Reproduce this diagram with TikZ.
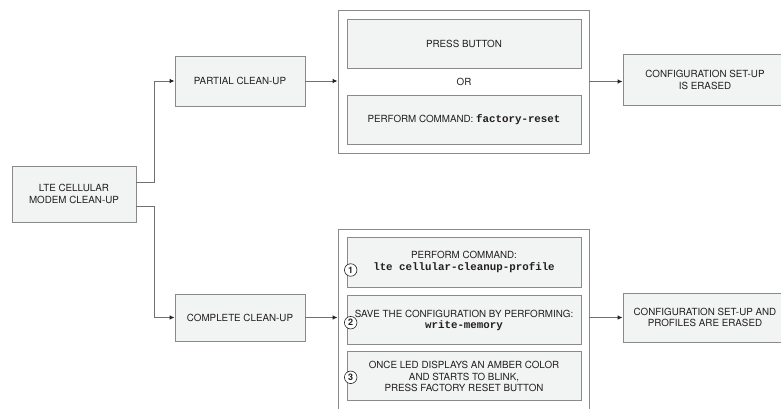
\documentclass[tikz,border=0pt]{standalone}
\usepackage{fontspec}
\setmainfont{TeX Gyre Heros}
\setmonofont{Liberation Mono}
\usetikzlibrary{arrows.meta,calc}
\definecolor{boxfill}{HTML}{F2F3F3}
\definecolor{boxline}{HTML}{8A8A8A}
\definecolor{wire}{HTML}{707070}
\definecolor{ink}{HTML}{231F20}
\newcommand\cmdtxt[1]{{\fontsize{10.8}{11.2}\selectfont\ttfamily\bfseries #1}}
\begin{document}
\begin{tikzpicture}[x=1pt,y=-1pt,
  box/.style={draw=boxline,fill=boxfill,line width=0.9pt,inner sep=0pt,align=center,
    font=\fontsize{9.8}{11.4}\selectfont,text=ink},
  frame/.style={draw=boxline,fill=white,line width=0.9pt,inner sep=0pt},
  lbl/.style={inner sep=0pt,align=center,font=\fontsize{9.8}{11.4}\selectfont,text=ink},
  arr/.style={draw=wire,line width=0.9pt,-{Latex[length=5pt,width=4.5pt,color=ink]}},
  num/.style={circle,draw=ink,fill=white,line width=0.6pt,minimum size=12.5pt,inner sep=0pt,
    font=\fontsize{9}{9}\selectfont\bfseries,text=ink}
]
\useasboundingbox (0,0) rectangle (781,409);
\fill[white] (0,0) rectangle (781,409);
\begin{scope}
\clip (0,0) rectangle (781,409);
% left side
\node[box,minimum width=124pt,minimum height=56pt] (lte) at (74,194) {LTE CELLULAR\\MODEM CLEAN-UP};
\node[box,minimum width=130pt,minimum height=50pt] (partial) at (240,81) {PARTIAL CLEAN-UP};
\node[box,minimum width=130pt,minimum height=47pt] (complete) at (240,317.5) {COMPLETE CLEAN-UP};
% top group
\node[frame,minimum width=251pt,minimum height=143pt] (outA) at (463.5,81.5) {};
\node[box,minimum width=234pt,minimum height=49pt] (press) at (464,43.5) {PRESS BUTTON};
\node[lbl] (or) at (464,82) {OR};
\node[box,minimum width=234pt,minimum height=49pt] (cmdA) at (464,119.5) {PERFORM COMMAND: \cmdtxt{factory-reset}};
\node[box,minimum width=164pt,minimum height=51pt] (cfgA) at (705,80) {CONFIGURATION SET-UP\\IS ERASED};
% bottom group
\node[frame,minimum width=251pt,minimum height=196pt] (outB) at (463.5,327) {};
\node[box,minimum width=234pt,minimum height=50pt] (s1) at (464,262) {};
\node[lbl] (t1) at (464,262) {PERFORM COMMAND:\\[1.5pt]\cmdtxt{lte cellular-cleanup-profile}};
\node[box,minimum width=234pt,minimum height=49pt] (s2) at (464,319.5) {};
\node[lbl] (t2) at (464,320.5) {SAVE THE CONFIGURATION BY PERFORMING:\\\cmdtxt{write-memory}};
\node[box,minimum width=234pt,minimum height=49pt] (s3) at (464,375.5) {};
\node[lbl] (t3) at (464,376.5) {ONCE LED DISPLAYS AN AMBER COLOR\\AND STARTS TO BLINK,\\PRESS FACTORY RESET BUTTON};
\node[num] (n1) at (350.7,270) {1};
\node[num] (n2) at (350.7,322.7) {2};
\node[num] (n3) at (350.7,377.3) {3};
\node[box,minimum width=164pt,minimum height=49pt] (cfgB) at (705,317.5) {CONFIGURATION SET-UP AND\\PROFILES ARE ERASED};
% connectors
\draw[arr] ([yshift=12pt]lte.east) -- ++(18,0) |- (partial.west);
\draw[arr] ([yshift=-12.5pt]lte.east) -- ++(18,0) |- (complete.west);
\draw[arr] (partial.east) -- (partial.east -| outA.west);
\draw[arr] (outA.east) -- (outA.east -| cfgA.west);
\draw[arr] (complete.east) -- (complete.east -| outB.west);
\draw[arr] (complete.east -| outB.east) -- (complete.east -| cfgB.west);
\end{scope}
\end{tikzpicture}
\end{document}
